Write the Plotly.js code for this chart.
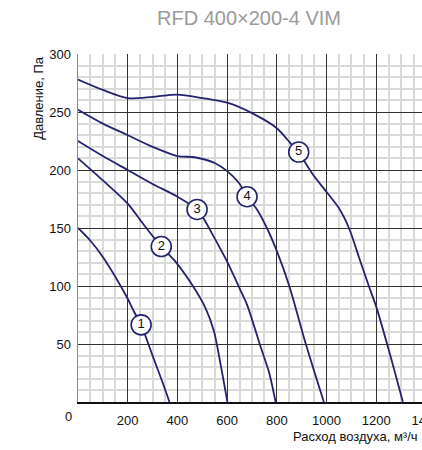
<!DOCTYPE html>
<html>
<head>
<meta charset="utf-8">
<script src="https://cdn.plot.ly/plotly-3.0.1.min.js"></script>
<style>
html,body{margin:0;padding:0;overflow:hidden;background:#fff;width:422px;height:450px;}
#chart{width:440px;height:450px;}
</style>
</head>
<body>
<div id="chart"></div>
<script>
// Curve data (flow m³/h, pressure Pa)
var c1x = [0, 50, 100, 150, 200, 225, 254, 300, 340, 368];
var c1y = [150, 139, 125, 108, 89, 78, 66.5, 40, 17, 0];
var c2x = [0, 100, 200, 264, 335, 392, 459, 513, 547, 574, 601];
var c2y = [210, 191, 171, 153, 134, 121, 101, 81, 61, 32, 0];
var c3x = [0, 100, 200, 300, 400, 479, 506, 550, 600, 650, 680, 734, 768, 795];
var c3y = [225, 212, 200, 188, 177, 166, 158, 141, 121, 98, 84, 48, 26, 0];
var c4x = [0, 100, 200, 300, 400, 470, 550, 600, 647, 680, 720, 760, 800, 850, 915, 989];
var c4y = [252, 240, 230, 220, 212, 211, 206, 199, 189, 177, 166, 150, 130, 100, 51, 0];
var c5x = [0, 100, 200, 300, 400, 500, 600, 700, 800, 855, 888, 942, 1000, 1050, 1090, 1130, 1170, 1200, 1250, 1307];
var c5y = [278, 269, 262, 263, 265, 262, 258, 249, 236, 223, 215, 197, 181, 167, 150, 125, 100, 82, 45, 0];

// Curve number labels
var labelText = ["1", "2", "3", "4", "5"];
var labelX = [254, 335, 479, 680, 888];
var labelY = [66.5, 134, 166, 177, 215.5];

// Axis ticks
var xTicks = [200, 400, 600, 800, 1000, 1200, 1400];
var xTickText = ["200", "400", "600", "800", "1000", "1200", "1400"];
var yTicks = [50, 100, 150, 200, 250, 300];
var yTickText = ["50", "100", "150", "200", "250", "300"];
var xMinorStep = 50;
var yMinorStep = 10;

var navy = '#23236e';
var curves = [[c1x, c1y], [c2x, c2y], [c3x, c3y], [c4x, c4y], [c5x, c5y]];
var data = [];
curves.forEach(function (c) {
  data.push({
    x: c[0], y: c[1], type: 'scatter', mode: 'lines',
    line: {color: navy, width: 1.8, shape: 'spline', smoothing: 0.8},
    hoverinfo: 'skip', showlegend: false
  });
});
data.push({
  x: labelX, y: labelY, text: labelText,
  type: 'scatter', mode: 'markers+text',
  marker: {size: 20, color: '#ffffff', line: {color: navy, width: 1.6}},
  textposition: 'middle center',
  textfont: {family: 'Liberation Sans, Arial, sans-serif', size: 13, color: '#111'},
  showlegend: false, hoverinfo: 'skip', cliponaxis: false
});

var font = 'Liberation Sans, Arial, Helvetica, sans-serif';
var minorColor = '#dadada';
var majorColor = '#333333';

var layout = {
  width: 440, height: 450,
  margin: {l: 78, r: 14.4, t: 54, b: 48},
  paper_bgcolor: '#fff', plot_bgcolor: '#fff',
  font: {family: font, size: 13, color: '#111'},
  showlegend: false,
  xaxis: {
    range: [0, 1400], tickmode: 'linear', tick0: 0, dtick: xTicks[1] - xTicks[0],
    labelalias: {'0': ' '},
    minor: {dtick: xMinorStep, showgrid: true, gridcolor: minorColor, gridwidth: 2},
    showgrid: true, gridcolor: majorColor, gridwidth: 1,
    zeroline: false, showline: true, linecolor: '#111', linewidth: 1.5,
    ticks: '', ticklabelstandoff: 6, ticklabeloverflow: 'allow',
    tickfont: {family: font, size: 13, color: '#111'}, fixedrange: true
  },
  yaxis: {
    range: [0, 300], tickmode: 'linear', tick0: 0, dtick: yTicks[1] - yTicks[0],
    labelalias: {'0': ' '},
    minor: {dtick: yMinorStep, showgrid: true, gridcolor: minorColor, gridwidth: 2},
    showgrid: true, gridcolor: majorColor, gridwidth: 1,
    zeroline: false, showline: true, linecolor: '#8a8a8a', linewidth: 1.5,
    ticks: '', ticklabelstandoff: 3, ticklabeloverflow: 'allow',
    tickfont: {family: font, size: 13, color: '#111'}, fixedrange: true
  },
  annotations: [
    {text: 'RFD 400×200-4 VIM', xref: 'paper', yref: 'paper', x: 0.492, y: 1.104,
     xanchor: 'center', yanchor: 'middle', showarrow: false,
     font: {family: font, size: 20, color: '#9a9a9a'}},
    {text: 'Давление, Па', xref: 'paper', yref: 'paper', x: -0.112, y: 0.874,
     xanchor: 'center', yanchor: 'middle', textangle: -90, showarrow: false,
     font: {family: font, size: 13, color: '#111'}},
    {text: 'Расход воздуха, м³/ч', xref: 'paper', yref: 'paper', x: 0.613, y: -0.0997,
     xanchor: 'left', yanchor: 'middle', showarrow: false,
     font: {family: font, size: 13, color: '#111'}},
    {text: '0', xref: 'paper', yref: 'paper', x: 0, y: 0, xshift: -10, yshift: -14,
     xanchor: 'center', yanchor: 'middle', showarrow: false,
     font: {family: font, size: 13, color: '#111'}}
  ]
};
Plotly.newPlot('chart', data, layout, {displayModeBar: false, staticPlot: true});
</script>
</body>
</html>
